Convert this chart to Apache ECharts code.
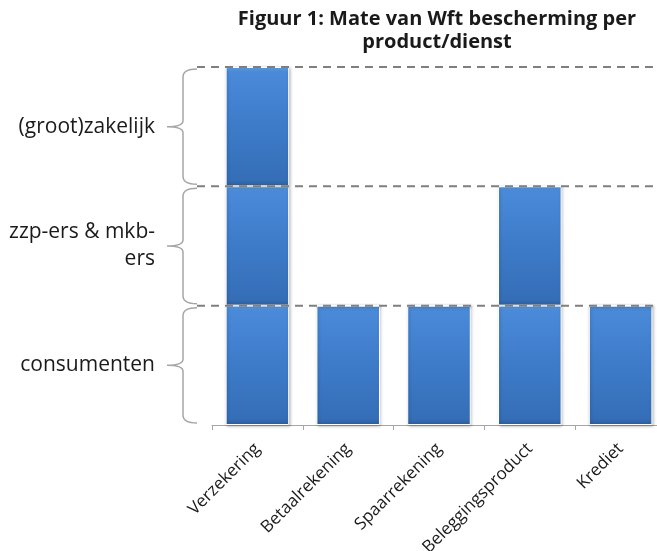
<!DOCTYPE html>
<html><head><meta charset="utf-8">
<script src="https://cdn.jsdelivr.net/npm/echarts@6/dist/echarts.min.js"></script>
<style>html,body{margin:0;padding:0;background:#fff}#c{width:657px;height:551px}</style>
</head><body><div id="c"></div>
<script>
const titleText = 'Figuur 1: Mate van Wft bescherming per\nproduct/dienst';
const categories = ['Verzekering', 'Betaalrekening', 'Spaarrekening', 'Beleggingsproduct', 'Krediet'];
const consumenten = [1, 1, 1, 1, 1];
const zzpMkb = [1, 0, 0, 1, 0];
const grootZakelijk = [1, 0, 0, 0, 0];
const segmentLabels = ['consumenten', 'zzp-ers & mkb-\ners', '(groot)zakelijk'];
const segmentBounds = [[0, 1], [1, 2], [2, 3]];

const FONT = '"Open Sans"';
const barColor = {
  type: 'linear', x: 0, y: 0, x2: 0, y2: 1,
  colorStops: [
    {offset: 0, color: '#6ea9ec'},
    {offset: 0.04, color: '#4a8ad8'},
    {offset: 0.5, color: '#3d7bc9'},
    {offset: 0.95, color: '#356eb7'},
    {offset: 1, color: '#2c5e9e'}
  ]
};
function barSeries(name, data) {
  return {
    name, type: 'bar', stack: 'total', data, barCategoryGap: '30%',
    itemStyle: {color: barColor, borderColor: '#ffffff', borderWidth: 1,
      shadowBlur: 3, shadowColor: 'rgba(0,0,0,0.25)', shadowOffsetX: 1, shadowOffsetY: 1},
    emphasis: {disabled: true}
  };
}

const chart = echarts.init(document.getElementById('c'), null, {renderer: 'canvas'});
chart.setOption({
  animation: false,
  backgroundColor: '#ffffff',
  title: {
    text: titleText, left: 432, top: 3, textAlign: 'center',
    textStyle: {fontFamily: FONT, fontWeight: 'bold', fontSize: 20, lineHeight: 23, color: '#1a1a1a'}
  },
  grid: {left: 212, right: -9, top: 67, bottom: 126, containLabel: false, outerBoundsMode: 'none'},
  xAxis: {
    type: 'category', data: categories,
    axisLine: {lineStyle: {color: '#a6a6a6', width: 1}},
    axisTick: {show: true, length: 5, lineStyle: {color: '#a6a6a6'}},
    axisLabel: {rotate: 45, fontFamily: FONT, fontSize: 17, color: '#1a1a1a', margin: 21}
  },
  yAxis: {
    type: 'value', min: 0, max: 3, interval: 0.5,
    axisLine: {show: false}, axisTick: {show: false}, splitLine: {show: false},
    axisLabel: {
      fontFamily: FONT, fontSize: 21, color: '#1a1a1a', margin: 57, lineHeight: 27, align: 'right',
      formatter: v => (v % 1 === 0.5 ? segmentLabels[Math.floor(v)] : '')
    }
  },
  series: [
    barSeries('consumenten', consumenten),
    barSeries('zzp-ers & mkb-ers', zzpMkb),
    barSeries('(groot)zakelijk', grootZakelijk),
    {
      type: 'custom', z: 10, silent: true, clip: false,
      data: segmentBounds,
      encode: {y: [0, 1]},
      renderItem: function (params, api) {
        const cs = params.coordSys;
        const lo = api.coord([0, api.value(0)]);
        const hi = api.coord([0, api.value(1)]);
        const x = cs.x - 29;
        const yt = hi[1] + 2, yb = lo[1] - 2, ym = (yt + yb) / 2;
        const d = `M${x + 14} ${yt} Q${x} ${yt} ${x} ${yt + 8} L${x} ${ym - 6} Q${x} ${ym} ${x - 16} ${ym} ` +
                  `Q${x} ${ym} ${x} ${ym + 6} L${x} ${yb - 8} Q${x} ${yb} ${x + 14} ${yb}`;
        return {
          type: 'group',
          children: [
            {type: 'path', shape: {pathData: d}, style: {fill: null, stroke: '#a6a6a6', lineWidth: 1.5}},
            {type: 'line', shape: {x1: x + 14, y1: hi[1], x2: cs.x + cs.width, y2: hi[1]},
              style: {stroke: '#7f7f7f', lineWidth: 2, lineDash: [8, 6]}}
          ]
        };
      }
    }
  ]
});
</script>
</body></html>
